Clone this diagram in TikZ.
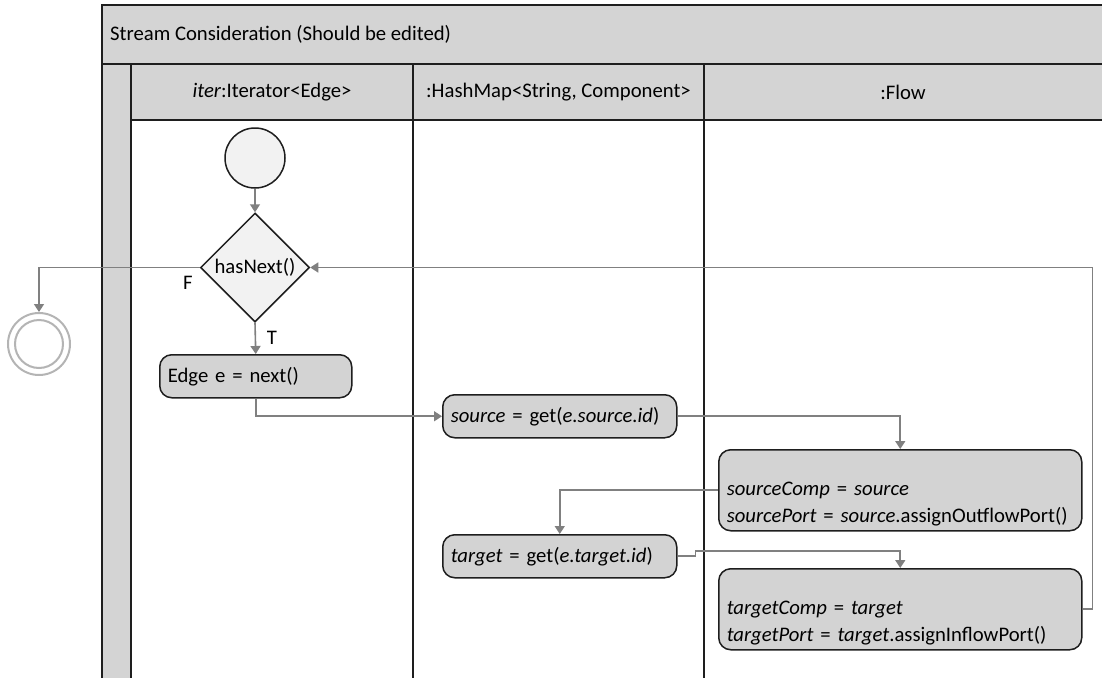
\documentclass[tikz,border=0pt]{standalone}
\usepackage{fontspec}
\setmainfont{Carlito}
\usetikzlibrary{arrows.meta,shapes.geometric,calc}
\definecolor{hdr}{HTML}{D4D4D4}
\definecolor{boxfill}{HTML}{D3D3D3}
\definecolor{connc}{HTML}{808080}
\definecolor{edgec}{HTML}{1E1E1E}
\definecolor{lite}{HTML}{F2F2F2}
\definecolor{fin}{HTML}{B4B4B4}
\begin{document}
\begin{tikzpicture}[x=1pt,y=-1pt,
  font=\fontsize{20.7pt}{27pt}\selectfont,
  frameline/.style={draw=edgec,line width=1.5pt},
  actbox/.style={draw=edgec,line width=1.5pt,fill=boxfill,rounded corners=12pt,
    inner xsep=8pt,inner ysep=0pt,align=left,anchor=north west},
  twoline/.style={actbox,minimum width=363pt,minimum height=81pt,text width=347pt,text depth=2.5pt},
  connector/.style={draw=connc,line width=1.6pt,-{Triangle[width=10pt,length=8pt]}},
  lbl/.style={inner sep=0pt}]
\clip (0,0) rectangle (1102,677);
\useasboundingbox (0,0) rectangle (1102,677);
% frame
\fill[hdr] (102,5) rectangle (1110,120);
\fill[hdr] (102,120) rectangle (131,690);
\fill[white] (131,120) rectangle (1110,690);
\draw[frameline] (1110,5) -- (102,5) -- (102,690);
\draw[frameline] (102,64) -- (1110,64);
\draw[frameline] (131,120) -- (1110,120);
\draw[frameline] (131,64) -- (131,690);
\draw[frameline] (413,64) -- (413,690);
\draw[frameline] (704,64) -- (704,690);
\node[lbl,anchor=west] (title) at (110,34) {Stream Consideration (Should be edited)};
\node[lbl] (lane1) at (272,92) {\textit{iter}:Iterator<Edge>};
\node[lbl] (lane2) at (558.5,92) {:HashMap<String, Component>};
\node[lbl] (lane3) at (903,92) {:Flow};
% nodes
\node[circle,draw=edgec,line width=1.5pt,fill=lite,minimum size=60pt,inner sep=0pt] (start) at (255,158) {};
\node[diamond,aspect=1,draw=edgec,line width=1.5pt,fill=lite,minimum width=109pt,minimum height=109pt,inner sep=0pt] (dec) at (255,267.5) {hasNext()};
\node[circle,draw=fin,line width=2pt,fill=white,minimum size=62pt,inner sep=0pt] (final) at (39,344) {};
\draw[fin,line width=2pt] (final.center) circle (24pt);
\node[actbox,minimum width=192pt,minimum height=43pt,text width=176pt] (edge) at (159,354) {Edge e = next()};
\node[actbox,minimum width=234pt,minimum height=43pt,text width=218pt] (source) at (442,394) {\textit{source} = get(\textit{e.source.id})};
\node[actbox,minimum width=234pt,minimum height=43pt,text width=218pt] (target) at (442,534) {\textit{target} = get(\textit{e.target.id})};
\node[twoline] (scomp) at (718,449) {\textit{sourceComp} = \textit{source}\\\textit{sourcePort} = \textit{source}.assignOutflowPort()};
\node[twoline] (tcomp) at (718,568) {\textit{targetComp} = \textit{target}\\\textit{targetPort} = \textit{target}.assignInflowPort()};
% connectors
\draw[connector] (start.south) -- (dec.north);
\draw[connector] (dec.south) -- (edge.north);
\node[lbl] (tlab) at (272,338) {T};
\draw[connector] (dec.west) -| (final.north);
\node[lbl] (flab) at (188,283) {F};
\draw[connector] (edge.south) |- (source.west);
\draw[connector] (source.east) -| (scomp.north);
\draw[connector] (scomp.west) -| (target.north);
\draw[connector] (target.east) -- ++(18,0) |- ($(tcomp.north)+(0,-17)$) -- (tcomp.north);
\draw[connector] (tcomp.east) -- ++(10,0) |- (dec.east);
\end{tikzpicture}
\end{document}
